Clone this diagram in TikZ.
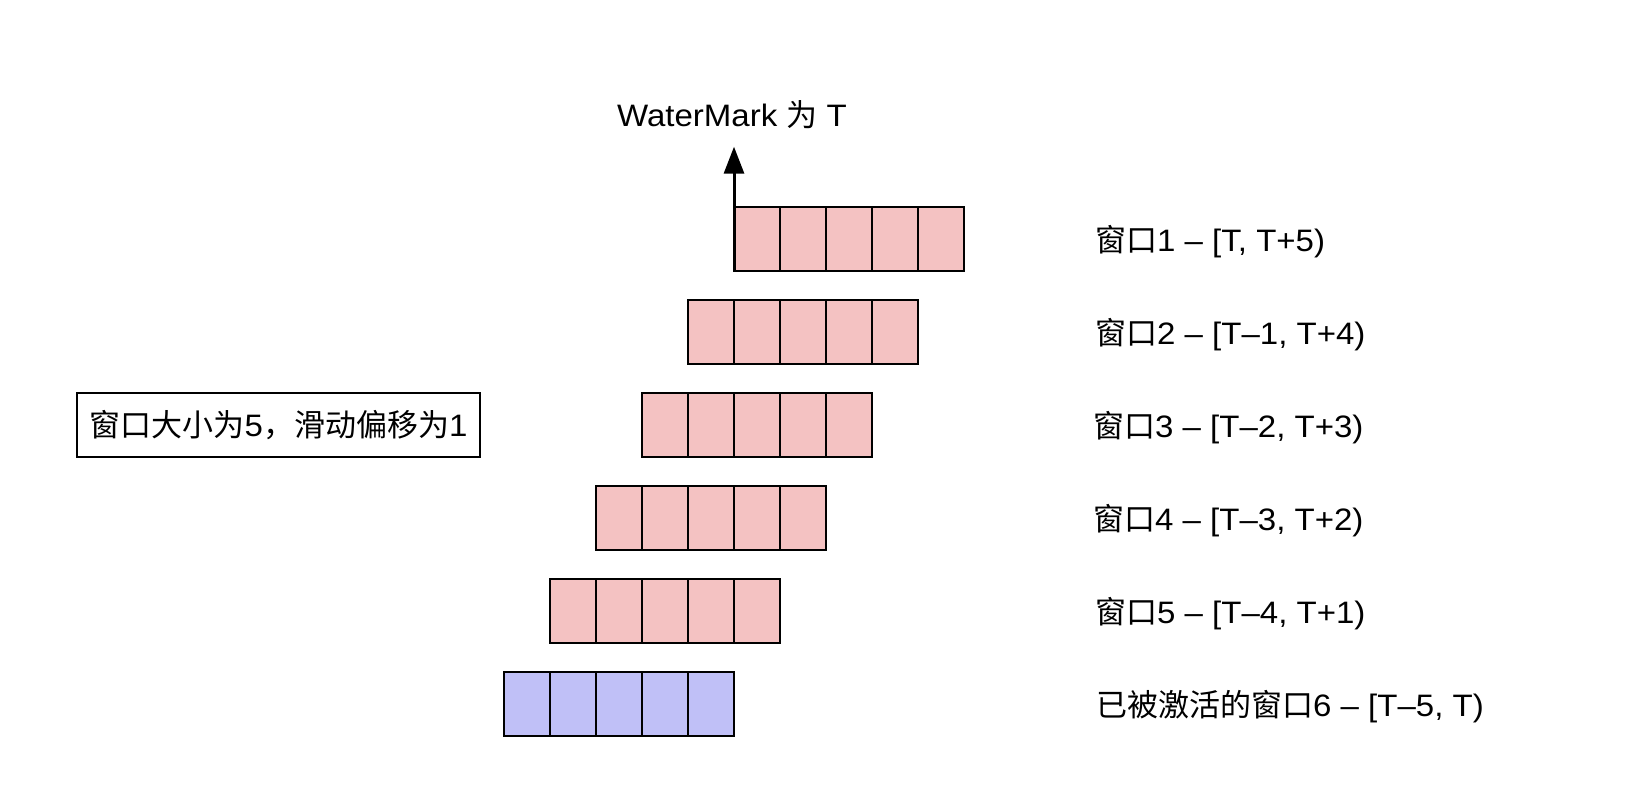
\documentclass[tikz,border=0pt]{standalone}
\usepackage{fontspec}
\setmainfont[FakeStretch=1.065]{Liberation Sans}
\newfontfamily\cjk{Noto Sans CJK SC}
\usetikzlibrary{arrows.meta}
\definecolor{cellred}{HTML}{F4C2C2}
\definecolor{cellblue}{HTML}{C0C0F7}
\begin{document}
\begin{tikzpicture}[x=1pt,y=-1pt,
  cell/.style={draw=black,line width=2pt,minimum width=46pt,minimum height=64pt,inner sep=0pt,outer sep=0pt,anchor=north west},
  lbl/.style={anchor=base west,inner sep=0pt,font=\fontsize{31}{36}\selectfont},
  infobox/.style={draw=black,line width=1.8pt,minimum width=403pt,minimum height=64pt,inner sep=0pt,font=\fontsize{31}{36}\selectfont},
  wmarrow/.style={line width=3pt,-{Triangle[length=27pt,width=20pt]}}
 ]
\useasboundingbox (0,0) rectangle (1628,786);
% windows
\foreach \k in {1,...,6}{
  \pgfmathsetmacro{\rowx}{734-46*(\k-1)}
  \pgfmathsetmacro{\rowy}{206.7+93*(\k-1)}
  \ifnum\k=6 \def\fc{cellblue}\else\def\fc{cellred}\fi
  \foreach \j in {1,...,5}{
    \node[cell,fill=\fc] (r\k c\j) at ({\rowx+46*(\j-1)},\rowy) {};
  }
}
% labels
\node[lbl] (l1) at (1095,251.7) {{\cjk 窗口}1 – [T, T+5)};
\node[lbl] (l2) at (1095,344.7) {{\cjk 窗口}2 – [T–1, T+4)};
\node[lbl] (l3) at (1093,437.7) {{\cjk 窗口}3 – [T–2, T+3)};
\node[lbl] (l4) at (1093,530.7) {{\cjk 窗口}4 – [T–3, T+2)};
\node[lbl] (l5) at (1095,623.7) {{\cjk 窗口}5 – [T–4, T+1)};
\node[lbl] (l6) at (1096,716.7) {{\cjk 已被激活的窗口}6 – [T–5, T)};
% info box
\node[infobox] (info) at (278.5,424.7) {{\cjk 窗口大小为}5{\cjk ，滑动偏移为}1};
% watermark
\coordinate (wmtip) at (734,146.7);
\node[anchor=base,inner sep=0pt,font=\fontsize{31}{36}\selectfont] (wm) at (732,127) {WaterMark {\cjk 为} T};
\draw[wmarrow] ([yshift=-1pt]r1c1.south west) -- (wmtip);
\end{tikzpicture}
\end{document}
